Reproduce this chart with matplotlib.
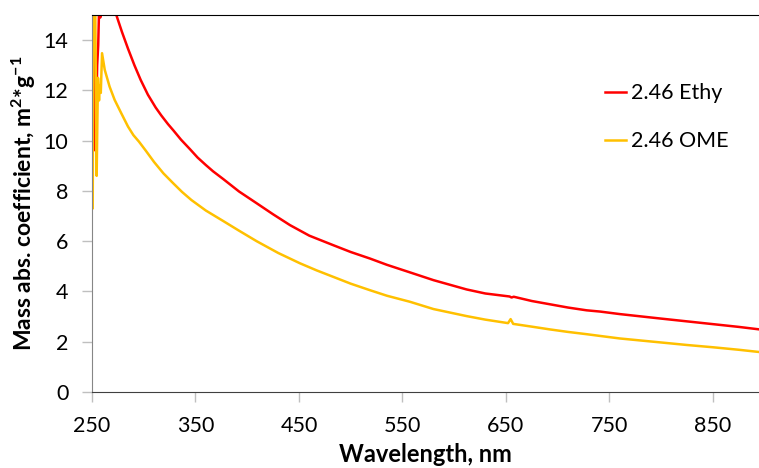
import matplotlib.pyplot as plt

plt.rcParams['font.family'] = ['Lato', 'DejaVu Sans']
plt.rcParams['mathtext.fontset'] = 'custom'
plt.rcParams['mathtext.rm'] = 'Lato:bold'
plt.rcParams['mathtext.it'] = 'Lato:bold'

# Values (wavelength in nm, coefficient in m2/g)
ethy_wl = [250, 252, 253.0, 253.4, 254.0, 255.0, 256.0, 257.0, 258.0, 259.0,
           262, 268, 273.5, 279, 284.8, 291, 297.0, 304, 311.5, 317, 323.4,
           328.6, 336, 344.7, 352, 360, 367, 376.9, 392, 409.1, 425, 441.3,
           460, 483.2, 500, 518.6, 535, 557.2, 580, 612, 630, 653.5, 655.4,
           657.5, 675, 692.5, 710, 727.9, 741, 760, 780, 800, 825, 850, 875, 895]
ethy_val = [16, 17, 12.1, 9.6, 11.0, 13.0, 13.8, 15.5, 14.9, 16,
            17, 16, 15.0, 14.32, 13.66, 13.0, 12.42, 11.83, 11.32, 11.0, 10.66,
            10.41, 10.04, 9.66, 9.33, 9.03, 8.78, 8.47, 7.98, 7.51, 7.07, 6.64,
            6.22, 5.84, 5.57, 5.31, 5.06, 4.76, 4.45, 4.08, 3.92, 3.80, 3.76,
            3.79, 3.62, 3.49, 3.36, 3.25, 3.20, 3.10, 3.01, 2.92, 2.81, 2.70, 2.59, 2.49]

ome_wl = [250, 250.7, 251.2, 252, 253.2, 254.0, 254.5, 255.2, 255.8, 256.8,
          257.5, 258.5, 259.7, 262.3, 267, 271.9, 278.3, 284.8, 290, 295.4,
          302, 310, 319, 328.6, 337, 346, 360, 376.9, 392, 409.1, 430, 451, 467,
          483.2, 500, 518.6, 535, 557.2, 580, 612, 630, 652, 654.5, 657, 675,
          692.5, 710, 728, 741, 760, 780, 800, 825, 850, 875, 895]
ome_val = [16, 7.3, 16, 16, 15.0, 11.0, 8.6, 10.8, 12.5, 11.6,
           12.2, 11.9, 13.48, 12.82, 12.15, 11.62, 11.09, 10.56, 10.22, 9.96,
           9.6, 9.15, 8.7, 8.30, 7.96, 7.64, 7.22, 6.80, 6.42, 6.0, 5.53, 5.12, 4.84,
           4.58, 4.31, 4.05, 3.83, 3.59, 3.30, 3.02, 2.88, 2.74, 2.90, 2.71, 2.60,
           2.49, 2.39, 2.30, 2.23, 2.13, 2.05, 1.97, 1.87, 1.78, 1.68, 1.59]

x_ticks = [250, 350, 450, 550, 650, 750, 850]
y_ticks = [0, 2, 4, 6, 8, 10, 12, 14]

fig = plt.figure(figsize=(7.59, 4.68), dpi=100)
ax = fig.add_axes([92 / 759, 1 - 392 / 468, 667 / 759, 377 / 468])

ax.plot(ethy_wl, ethy_val, color='#FF0000', lw=1.8, label='2.46 Ethy')
ax.plot(ome_wl, ome_val, color='#FFC000', lw=1.8, label='2.46 OME')

ax.set_xlim(250, 894.5)
ax.set_ylim(0, 15)
ax.set_xticks(x_ticks)
ax.set_yticks(y_ticks)

ax.spines['right'].set_visible(False)
ax.spines['top'].set_color('black')
ax.spines['left'].set_color('#868686')
ax.spines['bottom'].set_color('#404040')
ax.tick_params(axis='both', length=7, width=1, color='#BFBFBF',
               labelsize=15.5, labelcolor='black', pad=10)

ax.set_xlabel('Wavelength, nm', fontsize=17, fontweight='bold', labelpad=5)
ax.set_ylabel('Mass abs. coefficient, m$^{2}$*g$^{-1}$', fontsize=16.5,
              fontweight='bold', labelpad=4)

ax.legend(loc='upper left', bbox_to_anchor=(0.74, 0.87), frameon=False,
          fontsize=15.5, handlelength=1.0, handletextpad=0.2, labelspacing=1.3)

fig.savefig('out.png', dpi=100)
